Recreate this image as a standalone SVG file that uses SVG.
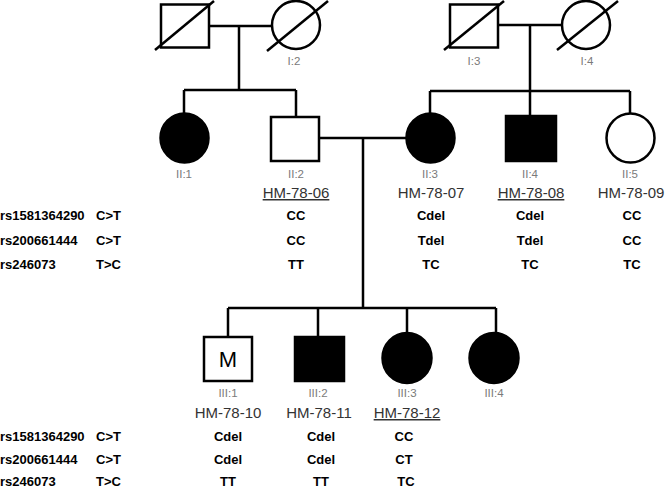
<svg xmlns="http://www.w3.org/2000/svg" width="666" height="489" viewBox="0 0 666 489">
<style>
.ln{stroke:#000;stroke-width:2.5;fill:none}
.open{fill:#fff;stroke:#000;stroke-width:2.5}
.aff{fill:#000;stroke:#000;stroke-width:2.5}
.dg{stroke:#000;stroke-width:2.5}
.gen{font-family:"Liberation Sans",Arial,sans-serif;font-size:11.5px;fill:#7a7a7a;text-anchor:middle}
.id{font-family:"Liberation Sans",Arial,sans-serif;font-size:15px;fill:#333;text-anchor:middle}
.u{text-decoration:underline}
.gt{font-family:"Liberation Sans",Arial,sans-serif;font-size:13px;font-weight:bold;fill:#000;text-anchor:middle}
.rs{font-family:"Liberation Sans",Arial,sans-serif;font-size:13px;font-weight:bold;fill:#000}
.m{font-family:"Liberation Sans",Arial,sans-serif;font-size:22px;fill:#000;text-anchor:middle}
</style>
<rect width="666" height="489" fill="#fff"/>
<g id="connectors">
<path class="ln" d="M209 26H272M239 26V90M184 90H296M184 90V113M296 90V117"/>
<path class="ln" d="M498 25H562M530 25V91M430 91H630M430 91V113M530 91V116M630 91V113"/>
<path class="ln" d="M319 138H406M363 138V308M228 308H496M228 308V337M318 308V337M407 308V333M496 308V333"/>
</g>
<g id="I1"><rect class="open" x="161" y="4.5" width="48" height="43"/><line class="dg" x1="155" y1="50" x2="214" y2="1"/></g>
<g id="I2"><circle class="open" cx="296" cy="25" r="24"/><line class="dg" x1="267" y1="51" x2="328" y2="1"/><text class="gen" x="294" y="65">I:2</text></g>
<g id="I3"><rect class="open" x="450" y="4.5" width="48" height="43"/><line class="dg" x1="444" y1="50" x2="504" y2="1"/><text class="gen" x="474" y="65">I:3</text></g>
<g id="I4"><circle class="open" cx="586" cy="25" r="24"/><line class="dg" x1="557" y1="50" x2="618" y2="1"/><text class="gen" x="587" y="65">I:4</text></g>
<g id="II1"><ellipse class="aff" cx="184.5" cy="138" rx="24" ry="24.5"/><text class="gen" x="184" y="178">II:1</text></g>
<g id="II2"><rect class="open" x="271" y="117" width="48" height="44"/><text class="gen" x="296" y="178">II:2</text><text class="id u" x="296" y="198">HM-78-06</text></g>
<g id="II3"><ellipse class="aff" cx="430.5" cy="138" rx="24" ry="24.5"/><text class="gen" x="430" y="178">II:3</text><text class="id" x="431" y="198">HM-78-07</text></g>
<g id="II4"><rect class="aff" x="506" y="116" width="50" height="45"/><text class="gen" x="530" y="178">II:4</text><text class="id u" x="531" y="198">HM-78-08</text></g>
<g id="II5"><ellipse class="open" cx="630.5" cy="138" rx="24" ry="24.5"/><text class="gen" x="630" y="178">II:5</text><text class="id" x="631" y="198">HM-78-09</text></g>
<g id="III1"><rect class="open" x="204" y="337" width="48" height="44"/><text class="m" x="228" y="367">M</text><text class="gen" x="228" y="397">III:1</text><text class="id" x="228" y="418">HM-78-10</text></g>
<g id="III2"><rect class="aff" x="295" y="337" width="49" height="44"/><text class="gen" x="318" y="397">III:2</text><text class="id" x="319" y="418">HM-78-11</text></g>
<g id="III3"><ellipse class="aff" cx="407" cy="358" rx="24.5" ry="25"/><text class="gen" x="407" y="397">III:3</text><text class="id u" x="407" y="418">HM-78-12</text></g>
<g id="III4"><ellipse class="aff" cx="494" cy="358" rx="24.5" ry="25"/><text class="gen" x="494" y="397">III:4</text></g>
<g id="table-top">
<text class="rs" x="0" y="220">rs1581364290</text><text class="rs" x="96" y="220">C&gt;T</text>
<text class="rs" x="0" y="245">rs200661444</text><text class="rs" x="96" y="245">C&gt;T</text>
<text class="rs" x="0" y="269">rs246073</text><text class="rs" x="96" y="269">T&gt;C</text>
<text class="gt" x="296" y="220">CC</text><text class="gt" x="296" y="245">CC</text><text class="gt" x="296" y="269">TT</text>
<text class="gt" x="431" y="220">Cdel</text><text class="gt" x="431" y="245">Tdel</text><text class="gt" x="431" y="269">TC</text>
<text class="gt" x="530" y="220">Cdel</text><text class="gt" x="530" y="245">Tdel</text><text class="gt" x="530" y="269">TC</text>
<text class="gt" x="632" y="220">CC</text><text class="gt" x="632" y="245">CC</text><text class="gt" x="632" y="269">TC</text>
</g>
<g id="table-bottom">
<text class="rs" x="0" y="441">rs1581364290</text><text class="rs" x="96" y="441">C&gt;T</text>
<text class="rs" x="0" y="464">rs200661444</text><text class="rs" x="96" y="464">C&gt;T</text>
<text class="rs" x="0" y="486">rs246073</text><text class="rs" x="96" y="486">T&gt;C</text>
<text class="gt" x="228" y="441">Cdel</text><text class="gt" x="228" y="464">Cdel</text><text class="gt" x="228" y="486">TT</text>
<text class="gt" x="321" y="441">Cdel</text><text class="gt" x="321" y="464">Cdel</text><text class="gt" x="321" y="486">TT</text>
<text class="gt" x="404" y="441">CC</text><text class="gt" x="404" y="464">CT</text><text class="gt" x="406" y="486">TC</text>
</g>
</svg>
